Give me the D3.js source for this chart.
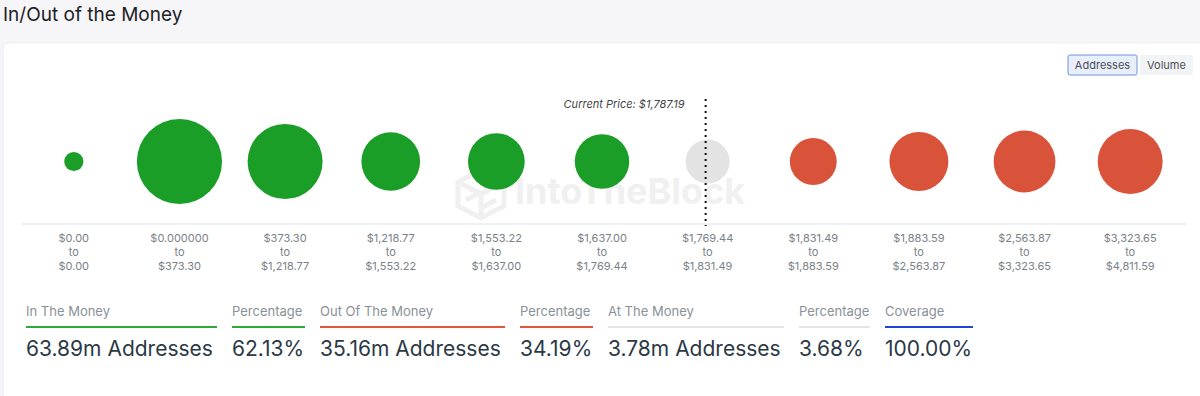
<!DOCTYPE html>
<html>
<head>
<meta charset="utf-8">
<script src="https://cdn.jsdelivr.net/npm/d3@7"></script>
<style>
  html, body { margin: 0; padding: 0; background: #f6f6f9; }
  body { width: 1200px; height: 396px; overflow: hidden; font-family: Inter, "Noto Sans", sans-serif; }
  svg text { font-family: Inter, "Noto Sans", sans-serif; }
</style>
</head>
<body>
<div id="chart"></div>
<script>
// bucket price ranges
const rangeLow = ["$0.00", "$0.000000", "$373.30", "$1,218.77", "$1,553.22", "$1,637.00",
  "$1,769.44", "$1,831.49", "$1,883.59", "$2,563.87", "$3,323.65"];
const rangeHigh = ["$0.00", "$373.30", "$1,218.77", "$1,553.22", "$1,637.00", "$1,769.44",
  "$1,831.49", "$1,883.59", "$2,563.87", "$3,323.65", "$4,811.59"];

// addresses per bucket (millions)
const inMoney = [0.05, 23.1, 16.8, 8.8, 8.0, 7.14];
const atMoney = [3.78];
const outMoney = [4.6, 8.9, 10.1, 11.56];

const currentPrice = "$1,787.19";

// summary row
const statLabels = ["In The Money", "Percentage", "Out Of The Money", "Percentage", "At The Money", "Percentage", "Coverage"];
const statValues = ["63.89m Addresses", "62.13%", "35.16m Addresses", "34.19%", "3.78m Addresses", "3.68%", "100.00%"];
const statKinds = ["in", "in", "out", "out", "at", "at", "cov"];
const statWidths = [191, 73, 185, 73, 176, 71, 88];

const colors = { in: "#1a9e27", out: "#d9523a", at: "#e3e3e3" };
const lineColors = { in: "#2fa83c", out: "#e0553f", at: "#e4e4e6", cov: "#2444d6" };

const data = [
  ...inMoney.map(v => ({ kind: "in", value: v })),
  ...atMoney.map(v => ({ kind: "at", value: v })),
  ...outMoney.map(v => ({ kind: "out", value: v }))
].map((d, i) => ({ ...d, low: rangeLow[i], high: rangeHigh[i], id: i }));

const width = 1200, height = 396;
const svg = d3.select("#chart").append("svg")
  .attr("width", width)
  .attr("height", height);

// title
svg.append("text")
  .attr("x", 3).attr("y", 21)
  .attr("font-size", 19)
  .attr("fill", "#1d2125")
  .text("In/Out of the Money");

// card
svg.append("rect")
  .attr("x", 3).attr("y", 43)
  .attr("width", 1205).attr("height", 360)
  .attr("rx", 6)
  .attr("fill", "#fff")
  .attr("stroke", "#eceef2");

// toggle buttons
const buttons = [
  { label: "Addresses", x: 1068, w: 69, active: true },
  { label: "Volume", x: 1140, w: 53, active: false }
];
const btn = svg.selectAll("g.btn").data(buttons).join("g")
  .attr("class", "btn")
  .attr("transform", d => `translate(${d.x},55)`);
btn.append("rect")
  .attr("width", d => d.w).attr("height", 20).attr("rx", 2)
  .attr("fill", d => d.active ? "#e9effa" : "#f2f3f5")
  .attr("stroke", d => d.active ? "#6d94df" : "none");
btn.append("text")
  .attr("x", d => d.w / 2).attr("y", 14)
  .attr("text-anchor", "middle")
  .attr("font-size", 11)
  .attr("fill", "#4a5057")
  .text(d => d.label);

// watermark
const wm = svg.append("g");
wm.append("text")
  .attr("x", 515).attr("y", 204)
  .attr("font-size", 36).attr("font-weight", 700)
  .attr("fill", "#f0f0f0")
  .text("IntoTheBlock");
wm.append("path")
  .attr("d", "M481,170 L504,182 L504,206 L481,218 L458,206 L458,182 Z M458,182 L481,194 L504,182 M481,194 L481,218 M466,200 L481,192 M496,200 L481,208")
  .attr("fill", "none").attr("stroke", "#f0f0f0").attr("stroke-width", 5);

// scales
const x = d3.scaleBand()
  .domain(data.map(d => d.id))
  .range([21, 1183]);

const r = d3.scaleSqrt()
  .domain([0, d3.max(data, d => d.value)])
  .range([8, 42.6]);

const cy = 161.5;
const baseY = 224;

// axis line
svg.append("line")
  .attr("x1", 22).attr("x2", 1186)
  .attr("y1", baseY).attr("y2", baseY)
  .attr("stroke", "#dde3ef");

// bubbles
svg.append("g").selectAll("circle")
  .data(data)
  .join("circle")
  .attr("cx", d => x(d.id) + x.bandwidth() / 2)
  .attr("cy", cy)
  .attr("r", d => r(d.value))
  .attr("fill", d => colors[d.kind]);

// range labels
const labels = svg.append("g").selectAll("text")
  .data(data)
  .join("text")
  .attr("text-anchor", "middle")
  .attr("font-size", 11)
  .attr("fill", "#7a8188");
[["low", 242], [null, 256], ["high", 270]].forEach(([key, y]) => {
  labels.append("tspan")
    .attr("x", d => x(d.id) + x.bandwidth() / 2)
    .attr("y", y)
    .text(d => key ? d[key] : "to");
});

// current price marker
const atBucket = data.find(d => d.kind === "at");
const priceX = x(atBucket.id) + x.bandwidth() / 2 - 2;
svg.append("line")
  .attr("x1", priceX).attr("x2", priceX)
  .attr("y1", 99).attr("y2", baseY + 2)
  .attr("stroke", "#111")
  .attr("stroke-width", 2)
  .attr("stroke-dasharray", "2,4");
svg.append("text")
  .attr("x", priceX - 21).attr("y", 108)
  .attr("text-anchor", "end")
  .attr("font-size", 11)
  .attr("font-style", "italic")
  .attr("fill", "#444")
  .text(`Current Price: ${currentPrice}`);

// summary stats
let sx = 26;
const stats = statLabels.map((label, i) => {
  const s = { label, value: statValues[i], kind: statKinds[i], x: sx, w: statWidths[i] };
  sx += statWidths[i] + 15;
  return s;
});
const sg = svg.append("g").selectAll("g")
  .data(stats)
  .join("g")
  .attr("transform", d => `translate(${d.x},0)`);
sg.append("text")
  .attr("y", 316)
  .attr("font-size", 13)
  .attr("fill", "#8a9198")
  .text(d => d.label);
sg.append("rect")
  .attr("y", 326).attr("width", d => d.w).attr("height", 2)
  .attr("fill", d => lineColors[d.kind]);
sg.append("text")
  .attr("y", 356)
  .attr("font-size", 21)
  .attr("fill", "#2b3946")
  .text(d => d.value);
</script>
</body>
</html>
